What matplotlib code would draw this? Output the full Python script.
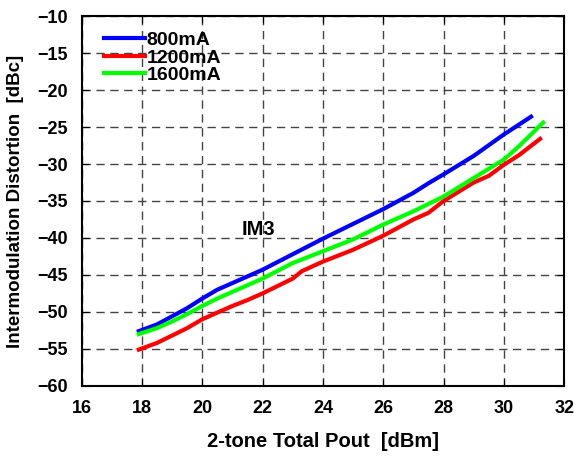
import numpy as np
import matplotlib
matplotlib.use('Agg')
import matplotlib.pyplot as plt

plt.rcParams['font.family'] = ['Liberation Sans', 'DejaVu Sans']
plt.rcParams['font.weight'] = 'bold'

# 800mA
pout_800 = [17.9, 18.5, 19, 19.5, 20, 20.5, 21, 22, 23, 24, 25, 26, 27, 27.5, 28, 29, 30, 30.9]
im3_800 = [-52.6, -51.7, -50.6, -49.5, -48.2, -47.0, -46.1, -44.3, -42.2, -40.1, -38.1, -36.1,
           -33.9, -32.6, -31.4, -28.9, -26.0, -23.6]
# 1200mA
pout_1200 = [17.9, 18.5, 19, 19.5, 20, 20.5, 21, 21.5, 22, 22.5, 23, 23.3, 24, 25, 26, 26.5,
             27, 27.5, 28, 29, 29.5, 30, 30.5, 31.2]
im3_1200 = [-55.1, -54.2, -53.2, -52.2, -51.0, -50.1, -49.2, -48.4, -47.5, -46.5, -45.5, -44.5,
            -43.2, -41.6, -39.7, -38.6, -37.5, -36.6, -35.0, -32.5, -31.6, -30.1, -28.8, -26.6]
# 1600mA
pout_1600 = [17.9, 18.5, 19, 19.5, 20, 20.5, 21, 22, 23, 24, 25, 26, 27, 28, 29, 30, 30.5, 31.3]
im3_1600 = [-53.0, -52.2, -51.3, -50.3, -49.2, -48.2, -47.3, -45.5, -43.4, -41.8, -40.2, -38.2,
            -36.4, -34.4, -31.9, -29.4, -27.6, -24.4]

fig = plt.figure(figsize=(5.74, 4.61), dpi=100)
ax = fig.add_axes([0.142, 0.163, 0.841, 0.802])

ax.plot(pout_800, im3_800, color='#0000ff', lw=3, label='800mA')
ax.plot(pout_1200, im3_1200, color='#ff0000', lw=3, label='1200mA')
ax.plot(pout_1600, im3_1600, color='#00ff00', lw=3, label='1600mA')

ax.set_xlim(16, 32)
ax.set_ylim(-60, -10)
ax.set_xticks(np.arange(16, 33, 2))
ax.set_yticks(np.arange(-60, -9, 5))
ax.grid(True, color='#444444', linestyle=(0, (6, 4)), linewidth=1)
ax.tick_params(direction='in', length=5, top=True, right=True, labelsize=13, pad=10)
for s in ax.spines.values():
    s.set_linewidth(1.5)

ax.set_xlabel('2-tone Total Pout  [dBm]', fontsize=14.5, fontweight='bold', labelpad=11)
ax.set_ylabel('Intermodulation Distortion  [dBc]', fontsize=13.5, fontweight='bold', labelpad=9)
ax.text(21.87, -38.9, 'IM3', fontsize=14.5, fontweight='bold', ha='center', va='center')

ax.legend(loc='upper left', bbox_to_anchor=(0.03, 0.98), frameon=False, fontsize=14,
          handlelength=2.1, handletextpad=0.1, labelspacing=0.0, borderaxespad=0)

plt.savefig('out.png', dpi=100)
